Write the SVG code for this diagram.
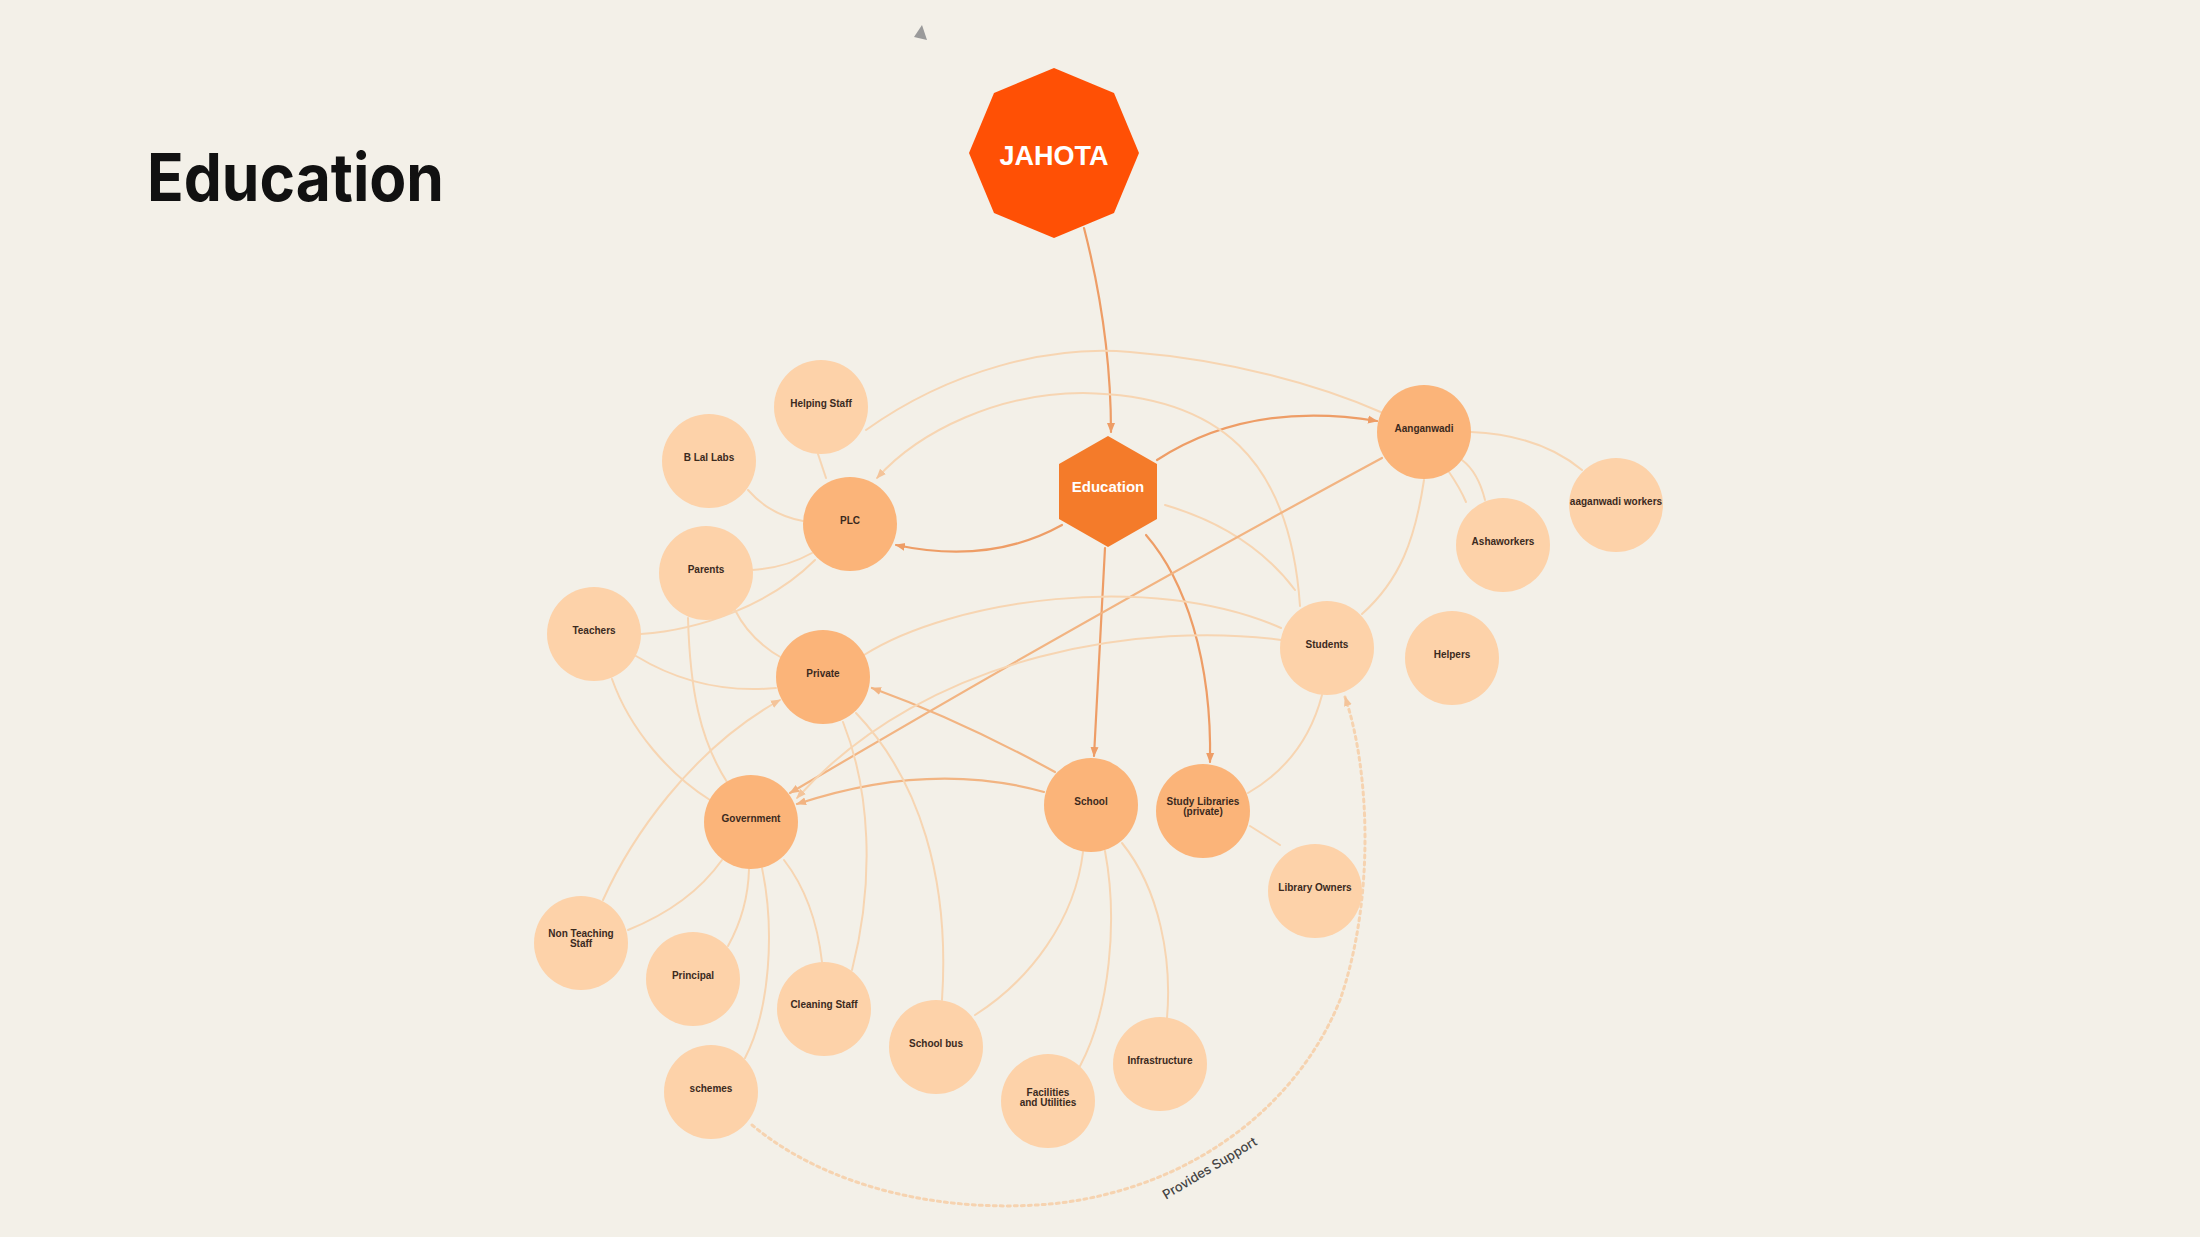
<svg xmlns="http://www.w3.org/2000/svg" width="2200" height="1237" viewBox="0 0 2200 1237">
<defs>
<style>
.bg{fill:#F3F0E8}
.e{fill:none;stroke-linecap:round}
.s{stroke:#EE9D66;stroke-width:2.2}
.m{stroke:#F2B482;stroke-width:2.2}
.l{stroke:#F7D5B2;stroke-width:2}
.d{stroke:#F6D3B0;stroke-width:3;stroke-dasharray:3 4}
.hub{fill:#FBB479}
.leaf{fill:#FDD2A9}
.t{font-family:"Liberation Sans",Arial,sans-serif;font-weight:700;font-size:10px;fill:#3B2A1E;text-anchor:middle}
</style>
<marker id="as" viewBox="0 0 10 10" refX="9" refY="5" markerWidth="10" markerHeight="10" markerUnits="userSpaceOnUse" orient="auto"><path d="M0,1 L10,5 L0,9 z" fill="#EE9D66"/></marker>
<marker id="am" viewBox="0 0 10 10" refX="9" refY="5" markerWidth="10" markerHeight="10" markerUnits="userSpaceOnUse" orient="auto"><path d="M0,1 L10,5 L0,9 z" fill="#F2B482"/></marker>
<marker id="al" viewBox="0 0 10 10" refX="9" refY="5" markerWidth="10" markerHeight="10" markerUnits="userSpaceOnUse" orient="auto"><path d="M0,1 L10,5 L0,9 z" fill="#F4C49A"/></marker>
</defs>
<rect class="bg" x="0" y="0" width="2200" height="1237"/>
<polygon points="922,25 927,40 914,37" fill="#9A9A9A"/>
<text x="147" y="201" font-family="Inter,'Liberation Sans',sans-serif" font-weight="700" font-size="66" fill="#111111" textLength="297" lengthAdjust="spacingAndGlyphs">Education</text>

<g id="connectors">
<path class="e s" d="M1084,228 C1100,290 1111,360 1111,432" marker-end="url(#as)"/>
<path class="e s" d="M1062,525 Q990,565 896,545" marker-end="url(#as)"/>
<path class="e s" d="M1157,460 Q1250,400 1377,421" marker-end="url(#as)"/>
<path class="e s" d="M1105,548 Q1100,650 1094,756" marker-end="url(#as)"/>
<path class="e s" d="M1146,535 C1185,580 1212,660 1210,762" marker-end="url(#as)"/>
<path class="e l" d="M1165,505 Q1250,530 1295,590"/>
<path class="e l" d="M1300,606 C1290,460 1220,395 1083,393 C1000,393 920,430 877,478" marker-end="url(#al)"/>
<path class="e l" d="M866,430 C950,370 1050,345 1130,352 C1230,360 1320,385 1383,413"/>
<path class="e l" d="M818,454 L826,478"/>
<path class="e l" d="M748,490 Q770,515 803,521"/>
<path class="e l" d="M752,570 Q785,568 812,553"/>
<path class="e l" d="M641,634 C700,630 770,605 815,560"/>
<path class="e l" d="M636,656 Q700,695 776,688"/>
<path class="e l" d="M735,610 Q750,640 782,658"/>
<path class="e l" d="M688,618 C690,690 700,740 727,782"/>
<path class="e l" d="M612,679 C630,730 670,775 710,800"/>
<path class="e l" d="M603,900 C630,840 690,750 780,700" marker-end="url(#al)"/>
<path class="e m" d="M1055,772 Q960,720 872,688" marker-end="url(#am)"/>
<path class="e m" d="M1044,792 Q930,760 797,804" marker-end="url(#am)"/>
<path class="e m" d="M1382,458 Q1100,610 790,793" marker-end="url(#am)"/>
<path class="e l" d="M1281,640 C1150,622 930,650 797,798" marker-end="url(#al)"/>
<path class="e l" d="M864,655 C950,600 1150,570 1281,628"/>
<path class="e l" d="M1424,480 C1415,540 1400,580 1362,614"/>
<path class="e l" d="M1449,472 Q1460,488 1466,502"/>
<path class="e l" d="M1462,460 Q1478,472 1485,500"/>
<path class="e l" d="M1471,432 Q1540,435 1582,470"/>
<path class="e l" d="M1248,793 Q1305,760 1322,695"/>
<path class="e l" d="M1250,826 L1280,845"/>
<path class="e l" d="M722,860 Q690,905 628,930"/>
<path class="e l" d="M749,869 Q748,910 728,946"/>
<path class="e l" d="M762,868 C775,930 770,1010 745,1058"/>
<path class="e l" d="M784,860 Q815,900 822,962"/>
<path class="e l" d="M843,722 C870,790 875,880 852,970"/>
<path class="e l" d="M856,713 C920,780 950,880 942,1000"/>
<path class="e l" d="M1083,852 C1075,920 1030,980 975,1015"/>
<path class="e l" d="M1105,851 C1118,920 1110,1010 1080,1066"/>
<path class="e l" d="M1122,843 C1160,890 1172,960 1167,1018"/>
<path class="e d" d="M752,1125 C830,1190 950,1215 1060,1203 C1200,1185 1300,1100 1340,1000 C1375,900 1370,770 1345,697" marker-end="url(#al)"/>
<text x="1212" y="1172" transform="rotate(-31 1212 1172)" font-family="Inter,'Liberation Sans',sans-serif" font-weight="500" font-size="13" fill="#444444" text-anchor="middle">Provides Support</text>
</g>

<g id="node-jahota">
<polygon points="1054,68 1114,93 1139,153 1114,213 1054,238 994,213 969,153 994,93" fill="#FF5005"/>
<text x="1054" y="165" font-family="'Liberation Sans',Arial,sans-serif" font-weight="700" font-size="27" fill="#FFFFFF" text-anchor="middle">JAHOTA</text>
</g>
<g id="node-education">
<polygon points="1108,436 1157,464 1157,519 1108,547 1059,519 1059,464" fill="#F47B2A"/>
<text x="1108" y="492" font-family="'Liberation Sans',Arial,sans-serif" font-weight="700" font-size="15" fill="#FFFFFF" text-anchor="middle">Education</text>
</g>
<g id="node-helping-staff"><circle class="leaf" cx="821" cy="407" r="47"/><text class="t" x="821" y="407">Helping Staff</text></g>
<g id="node-b-lal-labs"><circle class="leaf" cx="709" cy="461" r="47"/><text class="t" x="709" y="461">B Lal Labs</text></g>
<g id="node-plc"><circle class="hub" cx="850" cy="524" r="47"/><text class="t" x="850" y="524">PLC</text></g>
<g id="node-parents"><circle class="leaf" cx="706" cy="573" r="47"/><text class="t" x="706" y="573">Parents</text></g>
<g id="node-teachers"><circle class="leaf" cx="594" cy="634" r="47"/><text class="t" x="594" y="634">Teachers</text></g>
<g id="node-private"><circle class="hub" cx="823" cy="677" r="47"/><text class="t" x="823" y="677">Private</text></g>
<g id="node-aanganwadi"><circle class="hub" cx="1424" cy="432" r="47"/><text class="t" x="1424" y="432">Aanganwadi</text></g>
<g id="node-aaganwadi-workers"><circle class="leaf" cx="1616" cy="505" r="47"/><text class="t" x="1616" y="505">aaganwadi workers</text></g>
<g id="node-ashaworkers"><circle class="leaf" cx="1503" cy="545" r="47"/><text class="t" x="1503" y="545">Ashaworkers</text></g>
<g id="node-students"><circle class="leaf" cx="1327" cy="648" r="47"/><text class="t" x="1327" y="648">Students</text></g>
<g id="node-helpers"><circle class="leaf" cx="1452" cy="658" r="47"/><text class="t" x="1452" y="658">Helpers</text></g>
<g id="node-government"><circle class="hub" cx="751" cy="822" r="47"/><text class="t" x="751" y="822">Government</text></g>
<g id="node-school"><circle class="hub" cx="1091" cy="805" r="47"/><text class="t" x="1091" y="805">School</text></g>
<g id="node-study-libraries"><circle class="hub" cx="1203" cy="811" r="47"/><text class="t" x="1203" y="805">Study Libraries</text><text class="t" x="1203" y="815">(private)</text></g>
<g id="node-library-owners"><circle class="leaf" cx="1315" cy="891" r="47"/><text class="t" x="1315" y="891">Library Owners</text></g>
<g id="node-non-teaching-staff"><circle class="leaf" cx="581" cy="943" r="47"/><text class="t" x="581" y="937">Non Teaching</text><text class="t" x="581" y="947">Staff</text></g>
<g id="node-principal"><circle class="leaf" cx="693" cy="979" r="47"/><text class="t" x="693" y="979">Principal</text></g>
<g id="node-cleaning-staff"><circle class="leaf" cx="824" cy="1009" r="47"/><text class="t" x="824" y="1008">Cleaning Staff</text></g>
<g id="node-school-bus"><circle class="leaf" cx="936" cy="1047" r="47"/><text class="t" x="936" y="1047">School bus</text></g>
<g id="node-schemes"><circle class="leaf" cx="711" cy="1092" r="47"/><text class="t" x="711" y="1092">schemes</text></g>
<g id="node-facilities"><circle class="leaf" cx="1048" cy="1101" r="47"/><text class="t" x="1048" y="1096">Facilities</text><text class="t" x="1048" y="1106">and Utilities</text></g>
<g id="node-infrastructure"><circle class="leaf" cx="1160" cy="1064" r="47"/><text class="t" x="1160" y="1064">Infrastructure</text></g>
</svg>
